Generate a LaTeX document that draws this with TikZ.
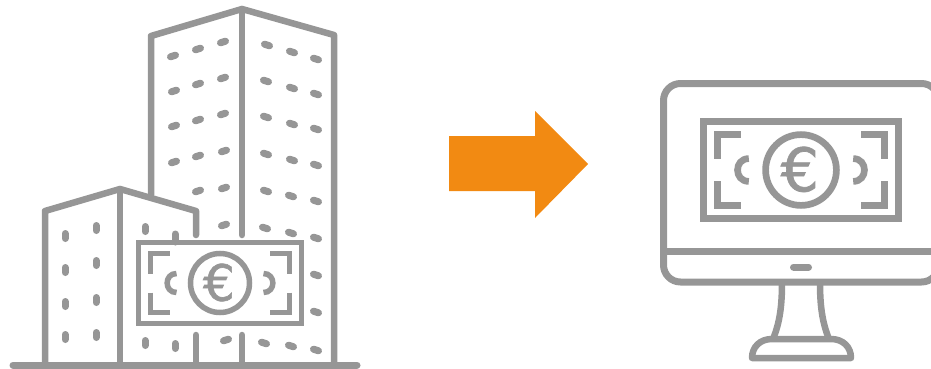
\documentclass[tikz,border=0pt]{standalone}
\usepackage{fontspec}
\newfontfamily\eurofont[FakeBold=1.2]{DejaVu Sans}
\usepackage{xcolor}
\usepackage{tikz}
\definecolor{icongray}{HTML}{969696}
\definecolor{arroworange}{HTML}{F28A12}

\tikzset{
    outline/.style={draw=icongray, line width=6.5pt, line join=round, line cap=round},
    base/.style={draw=icongray, line width=7pt, line cap=round},
    pane/.style={draw=icongray, line width=7pt, line cap=round},
    post/.style={draw=icongray, line width=7pt, line cap=round},
    notepart/.style={draw=icongray},
    banknote/.pic={
        \draw[notepart] (-81.5,-40.5) rectangle (81.5,40.5);
        \draw[notepart] (0,0) circle [radius=29.5];
        \draw[notepart] (-69.5,-9.5) -- (-69.5,-29.5) -- (-50,-29.5);
        \draw[notepart] (69.5,-9.5) -- (69.5,-29.5) -- (50,-29.5);
        \draw[notepart] (-69.5,9.5) -- (-69.5,29.5) -- (-50,29.5);
        \draw[notepart] (69.5,9.5) -- (69.5,29.5) -- (50,29.5);
        \draw[notepart] (-43.5,-9.5) .. controls (-56,-9.5) and (-56,9.5) .. (-43.5,9.5);
        \draw[notepart] (43.5,-9.5) .. controls (56,-9.5) and (56,9.5) .. (43.5,9.5);
        \node[text=icongray, inner sep=0pt, transform shape] (euro) at (-1,-0.5) {\eurofont\fontsize{50}{50}\selectfont €};
    }
}

\begin{document}
\begin{tikzpicture}[x=1pt, y=-1pt]
\useasboundingbox (0,0) rectangle (931,369);

% tower
\draw[outline] (151,195) -- (151,36) -- (242,9) -- (334,35) -- (334,365);
\draw[outline] (242,9) -- (242,235);
\draw[outline] (242,335) -- (242,365);
\foreach \x/\y in {173/56, 198/49, 223/42, 174/91, 198/84, 223/78, 174/126, 198/120, 223/114,
    174/162, 198/156, 224/151, 198/191, 224/188, 224/225, 226/340}
    \draw[post] (\x-2.5,\y+0.8) -- (\x+2.5,\y-0.8);
\foreach \x/\y in {267/45, 292/52, 316/59, 266/81, 292/88, 316/94, 266/117, 292/124, 316/129,
    266/154, 292/160, 316/165, 266/191, 291/196, 316/201, 265/228, 291/233, 316/238,
    316/275, 316/312, 264/343, 291/346, 316/350}
    \draw[post] (\x-2.5,\y-0.8) -- (\x+2.5,\y+0.8);

% small building
\draw[outline] (45,365) -- (45,211) -- (120,189) -- (196,211) -- (196,235);
\draw[outline] (120,189) -- (120,365);
\draw[outline] (196,335) -- (196,365);
\foreach \x/\y in {65/236, 96/228, 65/270, 96/263, 65/304, 96/300, 65/337, 96/335, 145/229, 145/343, 175/346}
    \draw[pane] (\x,\y-2.5) -- (\x,\y+2.5);
\draw[pane] (175,234) -- (175,242);
\draw[base] (13,365) -- (357,365);

\pic[line width=5.5pt] at (220,283) {banknote};

% arrow
\fill[arroworange] (449,136) -- (535,136) -- (535,111) -- (588,164) -- (535,218) -- (535,191) -- (449,191) -- cycle;

% monitor
\draw[outline, line width=7pt, rounded corners=17pt] (663.5,83.5) rectangle (938.5,282);
\draw[icongray, line width=7pt] (663.5,251.5) -- (938.5,251.5);
\draw[base] (793.5,267) -- (808.5,267);
\pic[line width=6.7pt, scale=1.2] at (801,170) {banknote};
\draw[outline, line cap=butt] (782,282) .. controls (782,305) and (780,322) .. (773,339);
\draw[outline, line cap=butt] (820,282) .. controls (820,305) and (822,322) .. (829,339);
\draw[outline] (752,358) -- (851,358) .. controls (851,347) and (843,339) .. (831,339)
    -- (772,339) .. controls (760,339) and (752,347) .. (752,358) -- cycle;
\end{tikzpicture}
\end{document}
